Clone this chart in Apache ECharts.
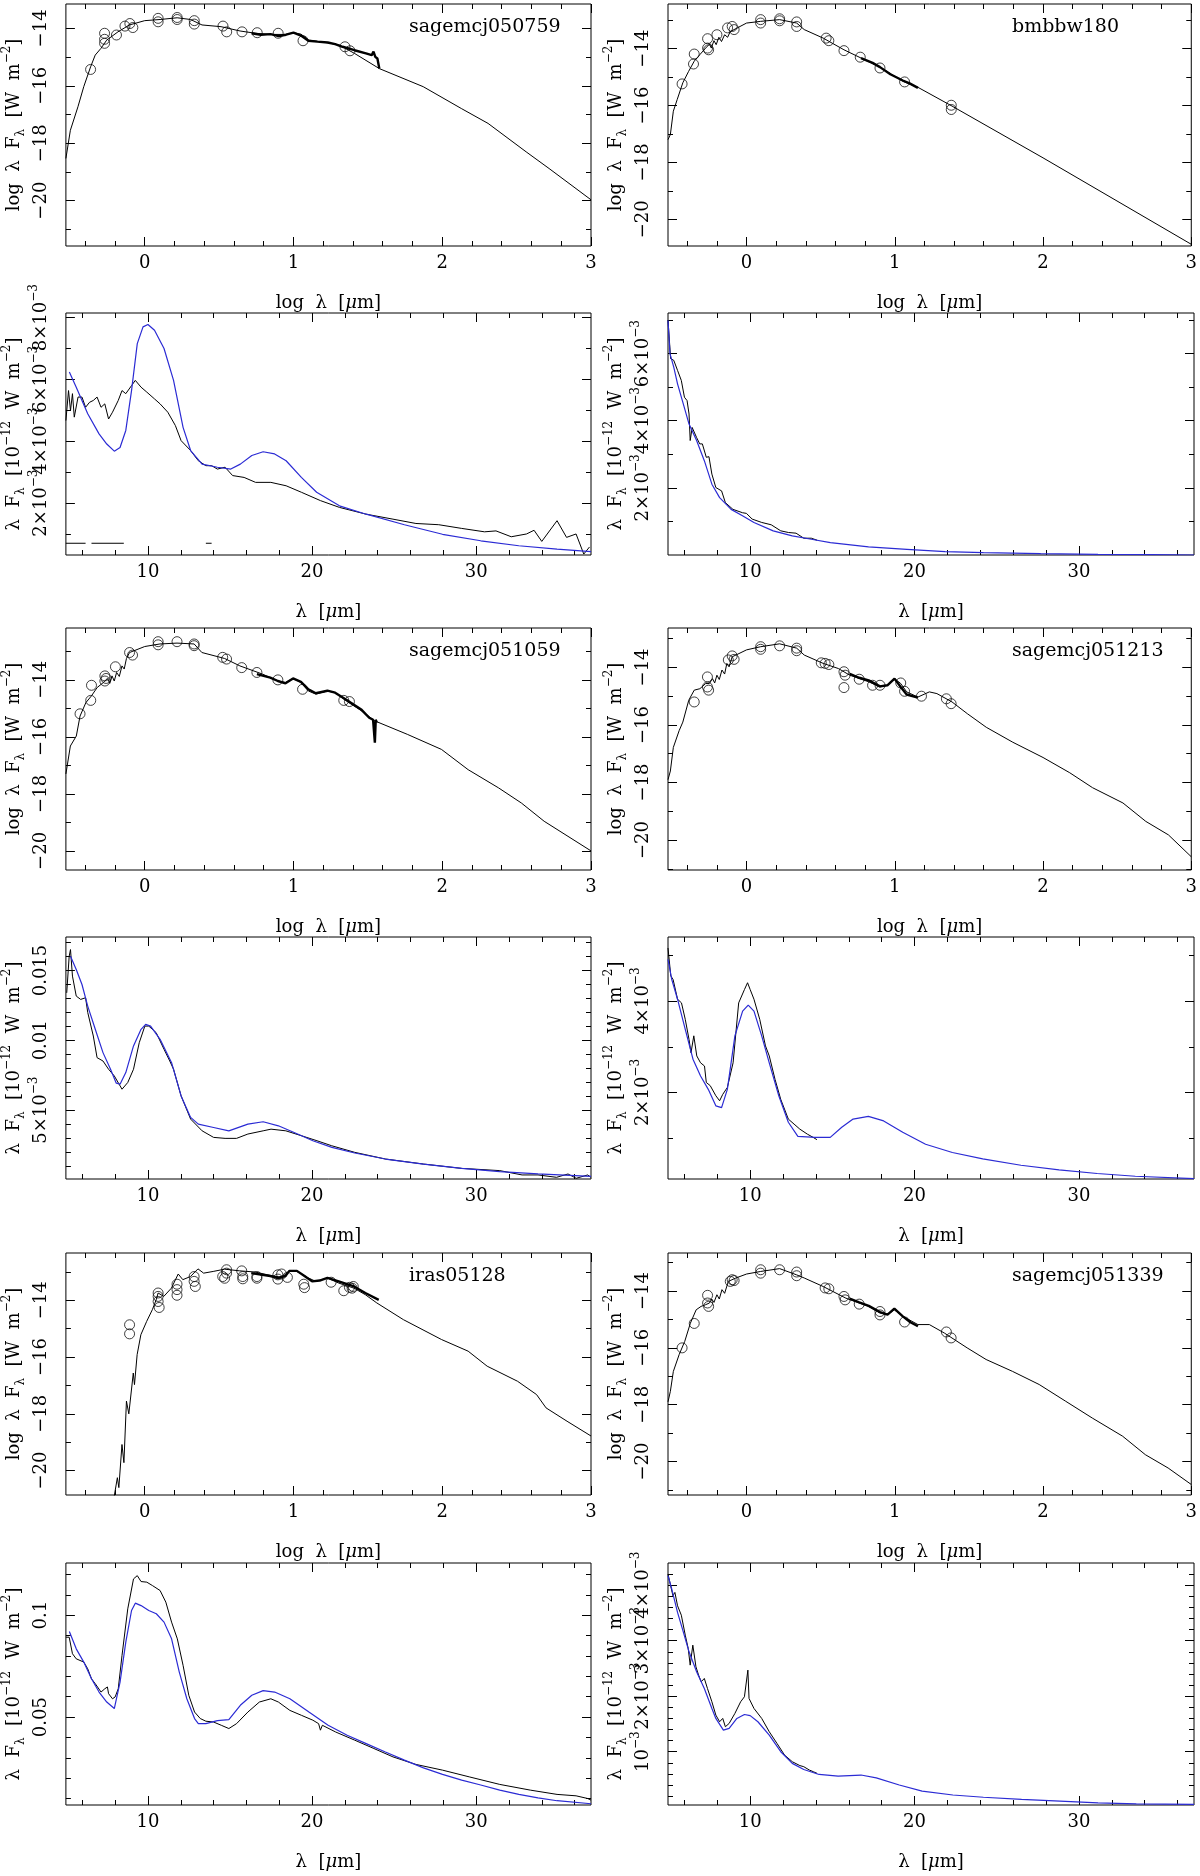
<!DOCTYPE html>
<html>
<head>
<meta charset="utf-8">
<script src="https://cdn.jsdelivr.net/npm/echarts@6/dist/echarts.min.js"></script>
<style>
html, body { margin: 0; padding: 0; background: #fff; }
#chart { width: 1200px; height: 1876px; }
</style>
</head>
<body>
<div id="chart"></div>
<script>
// ---- SED panels: [log lambda, log lambda F_lambda] ----
var sed050759Model = [[-0.53,-18.53],[-0.5,-17.55],[-0.449,-16.73],[-0.41,-16.03],[-0.364,-15.34],[-0.333,-14.93],[-0.295,-14.70],[-0.256,-14.41],[-0.18,-14.12],[-0.103,-13.88],[0,-13.73],[0.103,-13.69],[0.218,-13.63],[0.308,-13.69],[0.385,-13.88],[0.513,-13.94],[0.641,-14.09],[0.744,-14.17],[0.846,-14.21],[0.949,-14.21],[1.0,-14.15],[1.05,-14.2],[1.103,-14.41],[1.23,-14.5],[1.308,-14.58],[1.41,-14.87],[1.577,-15.40],[1.872,-16.03],[2.128,-16.79],[2.308,-17.31],[2.564,-18.3],[2.718,-18.88],[3.0,-19.97]];
var sed050759Spec = [[0.718,-14.17],[0.78,-14.22],[0.846,-14.2],[0.9,-14.27],[0.95,-14.22],[1.0,-14.15],[1.05,-14.25],[1.1,-14.43],[1.16,-14.46],[1.23,-14.49],[1.28,-14.55],[1.33,-14.64],[1.41,-14.76],[1.487,-14.87],[1.526,-14.93],[1.538,-14.81],[1.55,-14.99],[1.564,-15.05],[1.577,-15.4]];
var sed050759Phot = [[-0.364,-15.43],[-0.27,-14.17],[-0.27,-14.52],[-0.27,-14.38],[-0.19,-14.23],[-0.133,-13.92],[-0.10,-13.83],[-0.08,-13.97],[0.09,-13.65],[0.09,-13.77],[0.218,-13.62],[0.218,-13.69],[0.333,-13.73],[0.333,-13.85],[0.526,-13.92],[0.551,-14.12],[0.654,-14.12],[0.756,-14.15],[0.897,-14.17],[1.064,-14.43],[1.346,-14.64],[1.38,-14.78]];

var sedBmbbwModel = [[-0.53,-17.2],[-0.514,-17.02],[-0.494,-16.2],[-0.468,-15.79],[-0.43,-15.2],[-0.391,-14.8],[-0.353,-14.44],[-0.315,-14.21],[-0.276,-13.98],[-0.25,-13.84],[-0.238,-13.98],[-0.22,-13.72],[-0.205,-13.86],[-0.187,-13.6],[-0.169,-13.75],[-0.148,-13.51],[-0.128,-13.6],[-0.11,-13.4],[-0.097,-13.33],[0,-13.1],[0.095,-13.04],[0.223,-12.98],[0.338,-13.1],[0.389,-13.33],[0.517,-13.63],[0.657,-14.04],[0.772,-14.33],[0.9,-14.65],[1.054,-15.15],[1.156,-15.36],[1.386,-16.02],[2.0,-17.84],[3.0,-20.88]];
var sedBmbbwSpec = [[0.772,-14.33],[0.85,-14.5],[0.9,-14.65],[0.97,-14.9],[1.054,-15.12],[1.1,-15.22],[1.156,-15.38]];
var sedBmbbwPhot = [[-0.435,-15.24],[-0.358,-14.54],[-0.353,-14.19],[-0.263,-13.65],[-0.263,-13.98],[-0.256,-14.04],[-0.2,-13.51],[-0.128,-13.27],[-0.097,-13.22],[-0.084,-13.33],[0.095,-12.98],[0.095,-13.1],[0.223,-12.95],[0.223,-13.02],[0.338,-13.06],[0.338,-13.22],[0.537,-13.63],[0.555,-13.72],[0.657,-14.07],[0.767,-14.3],[0.9,-14.68],[1.066,-15.17],[1.381,-15.99],[1.381,-16.14]];

var sed051059Model = [[-0.53,-17.3],[-0.5,-16.32],[-0.46,-15.97],[-0.435,-15.27],[-0.396,-14.80],[-0.358,-14.56],[-0.32,-14.27],[-0.28,-14.1],[-0.269,-14.15],[-0.251,-13.95],[-0.235,-14.12],[-0.22,-13.86],[-0.205,-14.04],[-0.189,-13.74],[-0.171,-13.88],[-0.153,-13.51],[-0.138,-13.62],[-0.123,-13.25],[-0.102,-13.04],[0,-12.83],[0.102,-12.74],[0.217,-12.71],[0.332,-12.74],[0.384,-13.04],[0.537,-13.25],[0.64,-13.51],[0.793,-13.80],[0.895,-14.04],[0.946,-14.09],[0.997,-13.95],[1.05,-14.09],[1.10,-14.39],[1.15,-14.5],[1.228,-14.39],[1.28,-14.45],[1.355,-14.74],[1.458,-15.09],[1.547,-15.44],[1.765,-15.91],[1.995,-16.44],[2.174,-17.15],[2.379,-17.79],[2.532,-18.32],[2.685,-18.96],[3.0,-20.0]];
var sed051059Spec = [[0.754,-13.8],[0.844,-13.92],[0.895,-14.04],[0.946,-14.12],[0.997,-13.95],[1.05,-14.07],[1.1,-14.33],[1.15,-14.47],[1.228,-14.38],[1.28,-14.45],[1.355,-14.7],[1.458,-15.05],[1.509,-15.33],[1.535,-15.4],[1.547,-16.2],[1.553,-15.4],[1.56,-15.5]];
var sed051059Phot = [[-0.435,-15.19],[-0.363,-14.72],[-0.358,-14.19],[-0.268,-14.04],[-0.268,-13.86],[-0.26,-13.95],[-0.197,-13.54],[-0.102,-13.04],[-0.082,-13.13],[0.09,-12.66],[0.09,-12.77],[0.217,-12.66],[0.332,-12.74],[0.332,-12.8],[0.524,-13.21],[0.55,-13.27],[0.652,-13.57],[0.754,-13.74],[0.895,-14.0],[1.061,-14.33],[1.338,-14.72],[1.376,-14.76]];

var sed051213Model = [[-0.53,-17.9],[-0.514,-17.6],[-0.494,-16.78],[-0.455,-16.2],[-0.43,-15.9],[-0.39,-15.14],[-0.353,-14.79],[-0.315,-14.74],[-0.276,-14.56],[-0.251,-14.56],[-0.23,-14.39],[-0.215,-14.54],[-0.2,-14.27],[-0.184,-14.42],[-0.166,-14.09],[-0.148,-14.23],[-0.133,-13.86],[-0.118,-13.98],[-0.097,-13.63],[-0.072,-13.57],[0,-13.39],[0.095,-13.28],[0.223,-13.18],[0.338,-13.33],[0.389,-13.57],[0.517,-13.86],[0.62,-14.04],[0.696,-14.27],[0.824,-14.5],[0.9,-14.68],[0.95,-14.62],[0.998,-14.39],[1.04,-14.56],[1.08,-14.85],[1.156,-15.03],[1.233,-14.85],[1.284,-14.91],[1.386,-15.2],[1.49,-15.61],[1.617,-16.08],[1.796,-16.6],[2.0,-17.13],[2.18,-17.66],[2.334,-18.18],[2.539,-18.71],[2.693,-19.35],[2.846,-19.82],[3.0,-20.58]];
var sed051213Spec = [[0.696,-14.22],[0.76,-14.36],[0.824,-14.45],[0.9,-14.66],[0.95,-14.62],[0.998,-14.39],[1.04,-14.68],[1.08,-14.94],[1.156,-15.05]];
var sed051213Phot = [[-0.353,-15.2],[-0.264,-14.33],[-0.264,-14.68],[-0.256,-14.79],[-0.123,-13.74],[-0.097,-13.6],[-0.084,-13.72],[0.095,-13.28],[0.095,-13.37],[0.223,-13.25],[0.338,-13.33],[0.338,-13.42],[0.504,-13.84],[0.53,-13.86],[0.555,-13.9],[0.657,-14.15],[0.665,-14.27],[0.657,-14.7],[0.76,-14.41],[0.85,-14.62],[0.9,-14.62],[1.04,-14.54],[1.066,-14.83],[1.18,-15.0],[1.348,-15.09],[1.38,-15.26]];

var sedIrasModel = [[-0.205,-20.9],[-0.184,-20.25],[-0.174,-20.6],[-0.153,-19.08],[-0.14,-19.72],[-0.123,-17.55],[-0.107,-18.0],[-0.077,-16.56],[-0.069,-16.97],[-0.051,-15.91],[-0.026,-15.21],[0.013,-14.74],[0.051,-14.33],[0.077,-13.98],[0.09,-13.74],[0.128,-13.86],[0.179,-13.57],[0.225,-13.07],[0.256,-13.27],[0.307,-13.16],[0.358,-12.89],[0.396,-13.04],[0.46,-12.98],[0.537,-12.9],[0.639,-12.96],[0.742,-13.0],[0.844,-13.12],[0.92,-13.19],[0.972,-12.96],[1.023,-12.98],[1.1,-13.21],[1.15,-13.33],[1.228,-13.21],[1.304,-13.39],[1.407,-13.57],[1.483,-13.8],[1.56,-14.09],[1.739,-14.68],[1.995,-15.38],[2.174,-15.79],[2.302,-16.32],[2.506,-16.85],[2.634,-17.32],[2.698,-17.79],[2.839,-18.26],[3.0,-18.78]];
var sedIrasSpec = [[0.716,-13.04],[0.844,-13.14],[0.895,-13.21],[0.946,-13.14],[0.972,-12.96],[1.023,-12.96],[1.074,-13.14],[1.125,-13.33],[1.176,-13.3],[1.228,-13.21],[1.304,-13.33],[1.407,-13.51],[1.483,-13.74],[1.573,-13.98]];
var sedIrasPhot = [[-0.102,-14.86],[-0.102,-15.18],[0.09,-13.74],[0.09,-13.86],[0.09,-14.04],[0.097,-14.25],[0.217,-13.43],[0.217,-13.62],[0.217,-13.82],[0.332,-13.16],[0.332,-13.33],[0.34,-13.51],[0.524,-13.16],[0.537,-13.22],[0.55,-12.92],[0.55,-13.04],[0.652,-12.96],[0.659,-13.16],[0.659,-13.24],[0.754,-13.16],[0.754,-13.22],[0.895,-13.1],[0.895,-13.25],[0.92,-13.07],[0.959,-13.19],[1.069,-13.43],[1.074,-13.55],[1.253,-13.36],[1.338,-13.66],[1.376,-13.54],[1.394,-13.57],[1.402,-13.51]];

var sed051339Model = [[-0.53,-17.9],[-0.514,-17.53],[-0.494,-16.83],[-0.455,-16.24],[-0.417,-15.77],[-0.379,-15.13],[-0.34,-14.66],[-0.307,-14.54],[-0.276,-14.48],[-0.25,-14.42],[-0.235,-14.28],[-0.22,-14.4],[-0.2,-14.13],[-0.184,-14.28],[-0.166,-13.95],[-0.148,-14.08],[-0.123,-13.66],[-0.072,-13.54],[0,-13.4],[0.095,-13.31],[0.223,-13.21],[0.338,-13.43],[0.389,-13.54],[0.517,-13.84],[0.67,-14.25],[0.824,-14.54],[0.9,-14.77],[0.951,-14.83],[0.997,-14.66],[1.054,-14.89],[1.156,-15.18],[1.233,-15.18],[1.335,-15.48],[1.488,-16.0],[1.616,-16.41],[1.795,-16.83],[1.974,-17.29],[2.153,-17.88],[2.332,-18.47],[2.537,-19.11],[2.69,-19.76],[2.844,-20.23],[3.0,-20.81]];
var sed051339Spec = [[0.696,-14.27],[0.76,-14.4],[0.824,-14.52],[0.9,-14.74],[0.951,-14.83],[0.997,-14.62],[1.054,-14.89],[1.105,-15.1],[1.156,-15.24]];
var sed051339Phot = [[-0.435,-16.0],[-0.353,-15.14],[-0.263,-14.15],[-0.263,-14.42],[-0.256,-14.54],[-0.11,-13.66],[-0.097,-13.6],[-0.084,-13.63],[0.095,-13.25],[0.095,-13.37],[0.223,-13.25],[0.338,-13.33],[0.338,-13.46],[0.53,-13.89],[0.555,-13.92],[0.657,-14.19],[0.665,-14.31],[0.76,-14.46],[0.9,-14.72],[0.9,-14.84],[1.066,-15.09],[1.348,-15.44],[1.38,-15.65]];

// ---- spectra panels: [lambda (um), lambda F_lambda (1e-12 W m^-2)] ----
var spec050759Obs = [[5.0,4.67e-3],[5.16,5.64e-3],[5.28,4.99e-3],[5.4,5.54e-3],[5.51,4.78e-3],[5.74,5.43e-3],[5.98,5.43e-3],[6.2,5.1e-3],[6.44,5.26e-3],[6.67,5.32e-3],[6.9,5.43e-3],[7.14,5.1e-3],[7.37,5.21e-3],[7.6,4.72e-3],[7.84,4.94e-3],[8.19,5.32e-3],[8.42,5.64e-3],[8.65,5.54e-3],[9.0,5.8e-3],[9.23,5.97e-3],[9.58,5.75e-3],[9.93,5.59e-3],[10.4,5.37e-3],[10.74,5.21e-3],[11.21,4.94e-3],[11.67,4.51e-3],[12.02,4.02e-3],[12.6,3.7e-3],[13.07,3.37e-3],[13.53,3.21e-3],[13.88,3.21e-3],[14.23,3.1e-3],[14.7,3.16e-3],[15.16,2.89e-3],[15.86,2.83e-3],[16.56,2.67e-3],[17.49,2.67e-3],[18.42,2.56e-3],[19.35,2.35e-3],[20.51,2.08e-3],[21.67,1.86e-3],[23.3,1.64e-3],[24.93,1.48e-3],[26.33,1.34e-3],[27.72,1.3e-3],[29.12,1.18e-3],[30.51,1.07e-3],[31.21,1.1e-3],[32.14,0.91e-3],[33.07,1.0e-3],[33.53,1.12e-3],[34.0,0.76e-3],[34.93,1.43e-3],[35.51,0.89e-3],[36.09,1.0e-3],[36.56,0.35e-3],[36.91,0.58e-3]];
var spec050759Model = [[5.21,6.24e-3],[5.63,5.75e-3],[6.33,4.89e-3],[7.02,4.24e-3],[7.49,3.91e-3],[7.95,3.68e-3],[8.3,3.8e-3],[8.65,4.35e-3],[9.0,5.64e-3],[9.35,7.16e-3],[9.7,7.7e-3],[10.0,7.78e-3],[10.4,7.59e-3],[10.98,7.0e-3],[11.56,5.97e-3],[12.14,4.45e-3],[12.6,3.7e-3],[13.3,3.26e-3],[14.23,3.16e-3],[15.05,3.1e-3],[15.63,3.26e-3],[16.33,3.54e-3],[17.02,3.66e-3],[17.72,3.59e-3],[18.42,3.37e-3],[19.35,2.83e-3],[20.28,2.35e-3],[21.67,1.91e-3],[23.3,1.64e-3],[25.63,1.3e-3],[27.95,0.99e-3],[30.28,0.78e-3],[32.6,0.62e-3],[34.93,0.51e-3],[37.0,0.43e-3]];
var spec050759Dash = [[5.0,0.7e-3],[6.2,0.7e-3],[6.4,'-'],[6.56,0.7e-3],[8.53,0.7e-3],[9,'-'],[13.53,0.7e-3],[13.88,0.7e-3]];

var specBmbbwObs = [[5.0,7.0e-3],[5.16,5.85e-3],[5.35,5.8e-3],[5.58,5.5e-3],[5.81,5.2e-3],[6.0,4.7e-3],[6.16,4.6e-3],[6.28,4.2e-3],[6.35,3.41e-3],[6.47,3.8e-3],[6.74,3.5e-3],[6.93,3.31e-3],[7.09,3.31e-3],[7.33,2.91e-3],[7.49,2.93e-3],[7.67,2.41e-3],[7.91,2.01e-3],[8.26,1.91e-3],[8.49,1.56e-3],[8.95,1.36e-3],[9.53,1.26e-3],[9.77,1.24e-3],[10.12,1.07e-3],[10.7,0.97e-3],[11.28,0.9e-3],[11.86,0.72e-3],[12.33,0.67e-3],[12.79,0.65e-3],[13.26,0.5e-3],[13.72,0.5e-3],[14.07,0.44e-3]];
var specBmbbwModel = [[5.0,6.99e-3],[5.12,6.0e-3],[5.35,5.6e-3],[5.58,5.1e-3],[5.93,4.5e-3],[6.28,3.9e-3],[6.74,3.41e-3],[7.21,2.81e-3],[7.67,2.11e-3],[8.14,1.71e-3],[8.84,1.36e-3],[9.53,1.17e-3],[10.23,0.97e-3],[11.4,0.72e-3],[12.56,0.57e-3],[13.72,0.47e-3],[14.88,0.37e-3],[17.2,0.24e-3],[19.53,0.17e-3],[21.86,0.1e-3],[24.19,0.07e-3],[27.67,0.04e-3],[31.16,0.02e-3],[34.4,0.01e-3],[37.0,0.0]];

var spec051059Obs = [[5.05,13.4e-3],[5.2,16.02e-3],[5.28,16.5e-3],[5.4,14.6e-3],[5.63,13.17e-3],[5.9,12.93e-3],[6.2,13.05e-3],[6.33,12.0e-3],[6.67,10.31e-3],[6.9,8.76e-3],[7.26,8.52e-3],[7.6,7.93e-3],[7.95,7.45e-3],[8.42,6.5e-3],[8.77,6.98e-3],[9.12,7.93e-3],[9.47,9.83e-3],[9.81,11.02e-3],[10.05,11.02e-3],[10.5,10.55e-3],[10.98,9.36e-3],[11.33,8.52e-3],[11.56,7.93e-3],[12.02,6.02e-3],[12.6,4.36e-3],[13.3,3.52e-3],[14.0,3.05e-3],[14.7,2.98e-3],[15.4,2.98e-3],[16.09,3.29e-3],[17.02,3.52e-3],[17.5,3.64e-3],[18.4,3.52e-3],[19.35,3.17e-3],[20.3,2.81e-3],[21.2,2.45e-3],[22.6,1.98e-3],[24.47,1.5e-3],[26.79,1.14e-3],[29.12,0.83e-3],[31.44,0.67e-3],[32.8,0.36e-3],[33.77,0.36e-3],[34.9,0.19e-3],[35.6,0.43e-3],[36.1,0.12e-3],[36.8,0.36e-3],[37.0,0.19e-3]];
var spec051059Model = [[5.28,16.02e-3],[5.63,15.07e-3],[5.98,14.0e-3],[6.33,12.45e-3],[6.79,10.79e-3],[7.26,9.12e-3],[7.72,7.93e-3],[8.07,6.93e-3],[8.3,6.86e-3],[8.65,7.69e-3],[9.12,9.6e-3],[9.58,10.79e-3],[9.86,11.14e-3],[10.16,11.02e-3],[10.74,10.07e-3],[11.44,8.4e-3],[12.02,6.02e-3],[12.6,4.48e-3],[13.07,4.0e-3],[14.0,3.76e-3],[14.93,3.52e-3],[16.09,4.0e-3],[17.02,4.17e-3],[17.95,3.88e-3],[19.12,3.29e-3],[20.05,2.81e-3],[21.21,2.33e-3],[22.6,1.93e-3],[24.47,1.5e-3],[26.79,1.14e-3],[29.12,0.83e-3],[31.44,0.6e-3],[33.77,0.43e-3],[37.0,0.26e-3]];

var spec051213Obs = [[5.0,5.16e-3],[5.17,4.55e-3],[5.31,4.47e-3],[5.4,4.51e-3],[5.58,4.04e-3],[5.82,3.96e-3],[6.05,3.6e-3],[6.28,3.16e-3],[6.4,2.87e-3],[6.57,3.24e-3],[6.75,2.8e-3],[6.98,2.65e-3],[7.22,2.58e-3],[7.33,2.22e-3],[7.57,2.15e-3],[7.91,1.93e-3],[8.14,1.82e-3],[8.33,1.96e-3],[8.61,2.11e-3],[8.96,2.65e-3],[9.3,3.96e-3],[9.65,4.25e-3],[9.84,4.4e-3],[10.0,4.25e-3],[10.23,4.04e-3],[10.58,3.6e-3],[10.93,3.02e-3],[11.16,2.8e-3],[11.51,2.29e-3],[11.86,1.85e-3],[12.32,1.42e-3],[12.67,1.31e-3],[13.02,1.2e-3],[13.48,1.09e-3],[13.83,1.02e-3],[14.06,0.97e-3]];
var spec051213Model = [[5.0,4.91e-3],[5.23,4.47e-3],[5.58,4.04e-3],[6.05,3.38e-3],[6.52,2.73e-3],[6.98,2.36e-3],[7.45,2.07e-3],[7.91,1.71e-3],[8.26,1.67e-3],[8.61,2.07e-3],[9.07,3.24e-3],[9.54,3.78e-3],[9.88,3.91e-3],[10.23,3.78e-3],[10.7,3.24e-3],[11.16,2.65e-3],[11.74,1.93e-3],[12.32,1.35e-3],[12.9,1.04e-3],[13.94,1.02e-3],[14.87,1.02e-3],[15.57,1.24e-3],[16.26,1.42e-3],[17.19,1.48e-3],[18.12,1.38e-3],[19.28,1.13e-3],[20.67,0.87e-3],[22.3,0.69e-3],[24.15,0.55e-3],[26.47,0.41e-3],[28.79,0.31e-3],[31.11,0.23e-3],[33.43,0.17e-3],[37.0,0.12e-3]];

var specIrasObs = [[5.0,0.0892],[5.2,0.0892],[5.4,0.0811],[5.63,0.0786],[6.09,0.077],[6.33,0.0737],[6.56,0.0688],[6.79,0.0664],[7.14,0.0623],[7.37,0.0639],[7.53,0.0648],[7.6,0.0615],[7.84,0.059],[8.0,0.0599],[8.19,0.0639],[8.42,0.0803],[8.77,0.1031],[9.12,0.1178],[9.35,0.1194],[9.58,0.1165],[9.93,0.1162],[10.28,0.1145],[10.74,0.1121],[11.09,0.1064],[11.44,0.0966],[11.79,0.0884],[12.14,0.0754],[12.49,0.0607],[12.84,0.0525],[13.19,0.0493],[13.53,0.048],[14.0,0.0476],[14.47,0.046],[14.93,0.0444],[15.4,0.0468],[16.09,0.0525],[16.79,0.0574],[17.49,0.059],[17.95,0.0574],[18.65,0.0533],[19.35,0.0509],[20.05,0.0485],[20.4,0.0468],[20.51,0.0436],[20.63,0.046],[21.44,0.0427],[22.6,0.0387],[23.77,0.0346],[24.93,0.0305],[26.33,0.0268],[27.95,0.024],[29.58,0.0207],[31.44,0.017],[33.3,0.0142],[34.93,0.0121],[36.09,0.0114],[36.79,0.0101],[37.0,0.0093]];
var specIrasModel = [[5.21,0.092],[5.63,0.0835],[6.09,0.077],[6.56,0.0688],[7.02,0.0623],[7.49,0.0574],[7.95,0.0542],[8.3,0.0672],[8.65,0.0868],[9.0,0.1023],[9.23,0.1059],[9.58,0.1047],[10.05,0.1023],[10.51,0.1007],[10.98,0.0966],[11.44,0.0884],[11.91,0.0721],[12.37,0.059],[12.84,0.0493],[13.07,0.0468],[13.53,0.0468],[14.23,0.0483],[14.93,0.0488],[15.63,0.0558],[16.33,0.0607],[17.02,0.063],[17.72,0.0623],[18.65,0.059],[19.81,0.0525],[20.98,0.046],[22.14,0.0411],[23.3,0.037],[24.47,0.0329],[25.63,0.0289],[26.79,0.0251],[27.95,0.0219],[29.12,0.0191],[30.28,0.0167],[31.44,0.0142],[32.6,0.0121],[33.77,0.0104],[34.93,0.009],[37.0,0.0075]];

var spec051339Obs = [[5.0,4.2e-3],[5.16,3.99e-3],[5.3,3.81e-3],[5.42,3.87e-3],[5.58,3.63e-3],[5.81,3.46e-3],[6.05,3.1e-3],[6.23,2.86e-3],[6.35,2.56e-3],[6.51,2.92e-3],[6.7,2.53e-3],[6.86,2.38e-3],[7.02,2.26e-3],[7.21,2.32e-3],[7.4,2.14e-3],[7.67,1.9e-3],[7.91,1.66e-3],[8.14,1.54e-3],[8.33,1.6e-3],[8.49,1.45e-3],[8.72,1.51e-3],[9.07,1.69e-3],[9.42,1.9e-3],[9.65,1.99e-3],[9.77,1.96e-3],[9.86,2.47e-3],[9.93,1.96e-3],[10.05,1.93e-3],[10.23,1.78e-3],[10.7,1.6e-3],[11.16,1.36e-3],[11.63,1.15e-3],[12.09,0.94e-3],[12.56,0.82e-3],[13.02,0.75e-3],[13.26,0.73e-3],[13.6,0.67e-3],[13.84,0.64e-3],[14.07,0.61e-3]];
var spec051339Model = [[5.0,4.17e-3],[5.23,3.93e-3],[5.58,3.51e-3],[5.93,3.16e-3],[6.28,2.8e-3],[6.74,2.44e-3],[7.21,2.14e-3],[7.67,1.78e-3],[7.91,1.6e-3],[8.37,1.39e-3],[8.72,1.42e-3],[9.19,1.6e-3],[9.65,1.67e-3],[10.0,1.65e-3],[10.47,1.54e-3],[11.16,1.3e-3],[11.86,1.0e-3],[12.56,0.79e-3],[13.26,0.68e-3],[14.19,0.59e-3],[15.35,0.56e-3],[16.74,0.58e-3],[17.67,0.53e-3],[19.07,0.4e-3],[20.46,0.29e-3],[22.33,0.22e-3],[24.19,0.18e-3],[26.51,0.14e-3],[28.84,0.11e-3],[31.16,0.08e-3],[33.49,0.06e-3],[37.0,0.05e-3]];

// ---- tick values and tick label texts ----
var sedXMajor = [0, 1, 2, 3];
var sedXMinor = [-0.4, -0.2, 0.2, 0.4, 0.6, 0.8, 1.2, 1.4, 1.6, 1.8, 2.2, 2.4, 2.6, 2.8];
var sedYMajor = [-20, -18, -16, -14];
var sedYMinor = [-21, -19, -17, -15, -13];
var specXMajor = [10, 20, 30];
var specXMinor = [6, 8, 12, 14, 16, 18, 22, 24, 26, 28, 32, 34, 36];

var yTicksE3 = [2e-3, 4e-3, 6e-3, 8e-3];
var yLabelsE3 = ['2×10{sup|−3}', '4×10{sup|−3}', '6×10{sup|−3}', '8×10{sup|−3}'];
var yMinorE3 = [1e-3, 3e-3, 5e-3, 7e-3];
var yTicks051059 = [0.005, 0.01, 0.015];
var yLabels051059 = ['5×10{sup|−3}', '0.01', '0.015'];
var yMinor051059 = [0.001, 0.002, 0.003, 0.004, 0.006, 0.007, 0.008, 0.009, 0.011, 0.012, 0.013, 0.014, 0.016, 0.017];
var yTicksIras = [0.05, 0.1];
var yLabelsIras = ['0.05', '0.1'];
var yMinorIras = [0.01, 0.02, 0.03, 0.04, 0.06, 0.07, 0.08, 0.09, 0.11, 0.12];
var yTicks051339 = [1e-3, 2e-3, 3e-3, 4e-3];
var yLabels051339 = ['10{sup|−3}', '2×10{sup|−3}', '3×10{sup|−3}', '4×10{sup|−3}'];
var yMinor051339 = [0.2e-3, 0.4e-3, 0.6e-3, 0.8e-3, 1.2e-3, 1.4e-3, 1.6e-3, 1.8e-3, 2.2e-3, 2.4e-3, 2.6e-3, 2.8e-3, 3.2e-3, 3.4e-3, 3.6e-3, 3.8e-3, 4.2e-3];

var FONT = 'DejaVu Serif';
var BLUE = '#2b2bd4';
var colLeft = [65, 668];
var rowTop = [4, 313, 628, 937, 1253, 1563];
var gridW = 526, gridH = 242;

var rich = {
	sup: { fontSize: 12, verticalAlign: 'top', fontFamily: FONT, color: '#000' },
	sub: { fontSize: 12, verticalAlign: 'bottom', fontFamily: FONT, color: '#000' },
	it: { fontSize: 18, fontStyle: 'italic', fontFamily: FONT, color: '#000' }
};

//面板定义
var panels = [
	{ kind: 'sed', col: 0, row: 0, name: 'sagemcj050759', y: [-21.58, -13.15], model: sed050759Model, spec: sed050759Spec, phot: sed050759Phot },
	{ kind: 'sed', col: 1, row: 0, name: 'bmbbw180', y: [-20.94, -12.43], model: sedBmbbwModel, spec: sedBmbbwSpec, phot: sedBmbbwPhot },
	{ kind: 'spec', col: 0, row: 1, y: [0.32e-3, 8.15e-3], ticks: yTicksE3, labels: yLabelsE3, minor: yMinorE3, obs: spec050759Obs, model: spec050759Model, dash: spec050759Dash },
	{ kind: 'spec', col: 1, row: 1, y: [0, 7.21e-3], ticks: yTicksE3, labels: yLabelsE3, minor: yMinorE3, obs: specBmbbwObs, model: specBmbbwModel },
	{ kind: 'sed', col: 0, row: 2, name: 'sagemcj051059', y: [-20.67, -12.18], model: sed051059Model, spec: sed051059Spec, phot: sed051059Phot },
	{ kind: 'sed', col: 1, row: 2, name: 'sagemcj051213', y: [-21.04, -12.63], model: sed051213Model, spec: sed051213Spec, phot: sed051213Phot },
	{ kind: 'spec', col: 0, row: 3, y: [0.07e-3, 17.4e-3], ticks: yTicks051059, labels: yLabels051059, minor: yMinor051059, obs: spec051059Obs, model: spec051059Model },
	{ kind: 'spec', col: 1, row: 3, y: [0.11e-3, 5.4e-3], ticks: yTicksE3, labels: yLabelsE3, minor: yMinorE3, obs: spec051213Obs, model: spec051213Model },
	{ kind: 'sed', col: 0, row: 4, name: 'iras05128', y: [-20.86, -12.33], model: sedIrasModel, spec: sedIrasSpec, phot: sedIrasPhot },
	{ kind: 'sed', col: 1, row: 4, name: 'sagemcj051339', y: [-21.18, -12.66], model: sed051339Model, spec: sed051339Spec, phot: sed051339Phot },
	{ kind: 'spec', col: 0, row: 5, y: [0.0069, 0.1256], ticks: yTicksIras, labels: yLabelsIras, minor: yMinorIras, obs: specIrasObs, model: specIrasModel },
	{ kind: 'spec', col: 1, row: 5, y: [0.04e-3, 4.4e-3], ticks: yTicks051339, labels: yLabels051339, minor: yMinor051339, obs: spec051339Obs, model: spec051339Model }
];

function inRange(vals, lo, hi) {
	return vals.filter(function(v) { return v > lo + 1e-12 && v < hi - 1e-12 || Math.abs(v - hi) < 1e-12; });
}

var option = { animation: false, backgroundColor: '#fff', grid: [], xAxis: [], yAxis: [], series: [], title: [] };

panels.forEach(function(p, g) {
	var isSed = p.kind === 'sed';
	var left = colLeft[p.col], top = rowTop[p.row];
	option.grid.push({ left: left, top: top, width: gridW, height: gridH, show: true, borderColor: '#000', borderWidth: 1, backgroundColor: 'transparent' });

	var xMin = isSed ? -0.53 : 5, xMax = isSed ? 3 : 37;
	var xMaj = isSed ? sedXMajor : specXMajor, xMin2 = isSed ? sedXMinor : specXMinor;
	var yMaj = inRange(isSed ? sedYMajor : p.ticks, p.y[0], p.y[1]);
	var yMin2 = inRange(isSed ? sedYMinor : p.minor, p.y[0], p.y[1]);
	// 长标签分两组放在两根轴上, 避免被自动隐藏
	var labA = isSed ? yMaj : yMaj.filter(function(v, i) { return i % 2 === 0; });
	var labB = isSed ? [] : yMaj.filter(function(v, i) { return i % 2 === 1; });

	var xName = isSed ? 'log  λ  [{it|μ}m]' : 'λ  [{it|μ}m]';
	var yName = isSed ? 'log  λ  F{sub|λ}  [W  m{sup|−2}]' : 'λ  F{sub|λ}  [10{sup|−12}  W  m{sup|−2}]';

	// x轴: 主刻度(底/顶) + 次刻度(底/顶)
	[['bottom', xMaj, 9, true], ['top', xMaj, 9, false], ['bottom', xMin2, 5, false], ['top', xMin2, 5, false]].forEach(function(a) {
		option.xAxis.push({
			type: 'value', gridIndex: g, position: a[0], min: xMin, max: xMax,
			axisLine: { show: false, onZero: false },
			splitLine: { show: false },
			axisTick: { show: true, inside: true, length: a[2], customValues: a[1], lineStyle: { color: '#000', width: 1 } },
			axisLabel: a[3] ? {
				show: true, customValues: a[1], margin: 8, color: '#000', fontFamily: FONT, fontSize: 18,
				showMinLabel: true, showMaxLabel: true, hideOverlap: false,
				formatter: function(v) { return String(v); }
			} : { show: false },
			name: a[3] ? xName : '', nameLocation: 'middle', nameGap: 44,
			nameTextStyle: { fontFamily: FONT, fontSize: 18, color: '#000', lineHeight: 26, rich: rich }
		});
	});

	function yFormatter(v) {
		if (isSed) return String(v).replace('-', '−');
		for (var i = 0; i < p.ticks.length; i++) {
			if (Math.abs(v - p.ticks[i]) < 1e-9) return p.labels[i];
		}
		return '';
	}

	// y轴
	[['left', yMaj, 9, labA, true], ['right', yMaj, 9, null, false], ['left', yMin2, 5, labB, false], ['right', yMin2, 5, null, false]].forEach(function(a) {
		var hasLab = a[3] && a[3].length > 0;
		option.yAxis.push({
			type: 'value', gridIndex: g, position: a[0], min: p.y[0], max: p.y[1],
			axisLine: { show: false, onZero: false },
			splitLine: { show: false },
			axisTick: { show: true, inside: true, length: a[2], customValues: a[1], lineStyle: { color: '#000', width: 1 } },
			axisLabel: hasLab ? {
				show: true, customValues: a[3], rotate: 90, margin: 12, color: '#000', fontFamily: FONT, fontSize: 18,
				lineHeight: 26, rich: rich, showMinLabel: true, showMaxLabel: true, hideOverlap: false,
				formatter: yFormatter
			} : { show: false },
			name: a[4] ? yName : '', nameLocation: 'middle', nameRotate: 90, nameGap: 36,
			nameTextStyle: { fontFamily: FONT, fontSize: 18, color: '#000', lineHeight: 26, rich: rich }
		});
	});

	var xi = g * 4, yi = g * 4;
	if (isSed) {
		option.series.push({ type: 'line', xAxisIndex: xi, yAxisIndex: yi, data: p.model, symbol: 'none', lineStyle: { color: '#000', width: 1 }, silent: true, clip: true });
		option.series.push({ type: 'line', xAxisIndex: xi, yAxisIndex: yi, data: p.spec, symbol: 'none', lineStyle: { color: '#000', width: 2.4 }, silent: true, clip: true });
		option.series.push({ type: 'scatter', xAxisIndex: xi, yAxisIndex: yi, data: p.phot, symbol: 'circle', symbolSize: 10,
			itemStyle: { color: 'rgba(0,0,0,0)', borderColor: '#111', borderWidth: 1 }, silent: true, clip: true });
		option.title.push({ text: p.name, left: left + 344, top: top + 14, padding: 0,
			textStyle: { fontFamily: FONT, fontSize: 19, fontWeight: 'normal', color: '#000' } });
	} else {
		option.series.push({ type: 'line', xAxisIndex: xi, yAxisIndex: yi, data: p.obs, symbol: 'none', lineStyle: { color: '#000', width: 1 }, silent: true, clip: true });
		option.series.push({ type: 'line', xAxisIndex: xi, yAxisIndex: yi, data: p.model, symbol: 'none', lineStyle: { color: BLUE, width: 1.2 }, silent: true, clip: true });
		if (p.dash) {
			option.series.push({ type: 'line', xAxisIndex: xi, yAxisIndex: yi, data: p.dash, symbol: 'none', connectNulls: false, lineStyle: { color: '#000', width: 1 }, silent: true, clip: true });
		}
	}
});

var myChart = echarts.init(document.getElementById('chart'), null, { renderer: 'canvas' });
myChart.setOption(option);
</script>
</body>
</html>
